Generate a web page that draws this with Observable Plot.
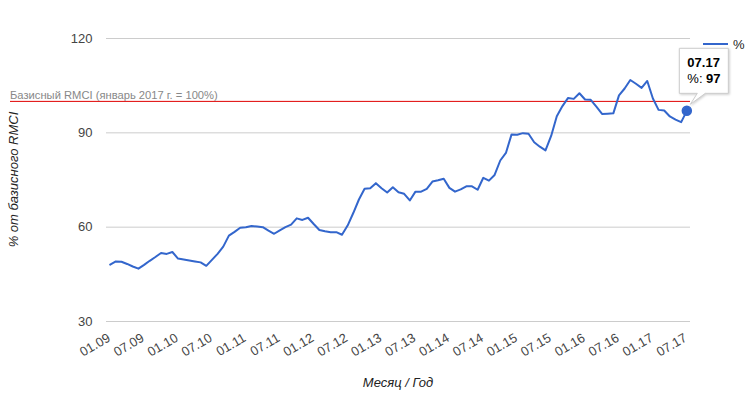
<!DOCTYPE html>
<html><head><meta charset="utf-8">
<script src="https://cdn.jsdelivr.net/npm/d3@7"></script>
<script src="https://cdn.jsdelivr.net/npm/@observablehq/plot@0.6"></script>
<style>
html,body{margin:0;padding:0;background:#fff;}
</style></head><body><div id="chart"></div>
<script>
// Monthly RMCI, % of base (Jan 2017 = 100), Jan 2009 .. Jul 2017
const values = [
  48.1, 49.1, 49.0, 48.3, 47.5, 46.8, 48.0, 49.3, 50.5, 51.8, 51.5, 52.1,
  50.0, 49.7, 49.4, 49.1, 48.8, 47.7, 49.6, 51.5, 53.8, 57.3, 58.5, 59.8,
  60.0, 60.4, 60.2, 60.0, 58.9, 57.9, 59.0, 60.0, 60.8, 62.8, 62.3, 63.0,
  61.0, 59.1, 58.7, 58.4, 58.4, 57.6, 60.5, 64.5, 68.8, 72.2, 72.4, 74.0,
  72.4, 71.0, 72.7, 71.1, 70.6, 68.5, 71.3, 71.3, 72.2, 74.5, 74.9, 75.4,
  72.5, 71.3, 72.0, 73.0, 73.0, 71.9, 75.7, 74.8, 76.6, 81.2, 83.6, 89.5,
  89.4, 89.9, 89.7, 87.0, 85.6, 84.4, 89.0, 95.3, 98.5, 101.1, 100.8, 102.6,
  100.6, 100.5, 98.3, 96.0, 96.1, 96.2, 101.9, 104.1, 106.8, 105.6, 104.3, 106.5,
  100.9, 97.3, 97.1, 95.2, 94.2, 93.4, 97
];
const tickLabels = ["01.09","07.09","01.10","07.10","01.11","07.11","01.12","07.12","01.13",
                    "07.13","01.14","07.14","01.15","07.15","01.16","07.16","01.17","07.17"];
const tickStep = 6; // months between labels
const yTicks = [30, 60, 90, 120];
const baseValue = 100;
const baseLabel = "Базисный RMCI (январь 2017 г. = 100%)";
const yTitle = "% от базисного RMCI";
const xTitle = "Месяц / Год";
const seriesName = "%";
const tipTitle = "07.17";

const data = values.map((v, i) => ({i, v}));
const ticks = tickLabels.map((t, k) => ({i: k * tickStep, t}));
const last = data[data.length - 1];

const FONT = "'Liberation Sans', Arial, sans-serif";
const BLUE = "#3366cc";

const chart = Plot.plot({
  width: 750, height: 395,
  marginLeft: 106, marginRight: 60, marginTop: 38, marginBottom: 74,
  style: {fontFamily: FONT, fontSize: "13px", background: "#fff", overflow: "visible"},
  x: {domain: [-0.65, values.length - 1 + 0.65], axis: null},
  y: {domain: [30, 120], axis: null},
  marks: [
    Plot.ruleY(yTicks, {stroke: "#cccccc", strokeWidth: 1}),
    Plot.text(yTicks, {y: d => d, text: d => String(d), frameAnchor: "left", dx: -14, textAnchor: "end", fill: "#444", fontSize: 13}),
    Plot.text(ticks, {x: "i", text: "t", frameAnchor: "bottom", rotate: -30, textAnchor: "end", lineAnchor: "bottom", dy: 19, dx: 1, fill: "#444", fontSize: 13}),
    Plot.ruleY([baseValue], {stroke: "#e00000", strokeWidth: 1, insetLeft: -96}),
    Plot.line(data, {x: "i", y: "v", stroke: BLUE, strokeWidth: 2, strokeLinejoin: "round"}),
    Plot.dot([last], {x: "i", y: "v", r: 4.5, fill: BLUE, stroke: BLUE})
  ]
});
document.getElementById("chart").appendChild(chart);

const svg = d3.select(chart);
const sx = chart.scale("x"), sy = chart.scale("y");
const px = sx.apply(last.i), py = sy.apply(last.v);
const xr = sx.range, yr = sy.range;
const midX = (Math.min(...xr) + Math.max(...xr)) / 2;
const midY = (Math.min(...yr) + Math.max(...yr)) / 2;

function txt(sel) {
  return sel.append("text").attr("font-family", FONT).attr("font-size", 13).attr("text-anchor", "start");
}

// base line label
txt(svg).attr("x", 10).attr("y", sy.apply(baseValue) - 2)
  .attr("font-size", 11.2).attr("fill", "#888").text(baseLabel);

// axis titles
txt(svg).attr("transform", `translate(18,${midY}) rotate(-90)`).attr("text-anchor", "middle")
  .attr("font-style", "italic").attr("fill", "#222").text(yTitle);
txt(svg).attr("x", midX).attr("y", 387).attr("text-anchor", "middle")
  .attr("font-style", "italic").attr("fill", "#222").text(xTitle);

// legend
svg.append("line").attr("x1", 703).attr("x2", 728).attr("y1", 44).attr("y2", 44)
  .attr("stroke", BLUE).attr("stroke-width", 2);
txt(svg).attr("x", 733).attr("y", 48.5).attr("fill", "#222").text(seriesName);

// tooltip
const tg = svg.append("g").attr("transform", `translate(${px},${py})`);
const L = -7, T = -62, R = 42, B = -17;
tg.append("path")
  .attr("d", `M${L},${T}H${R}V${B}H${19}L${4},${-6}L${11},${B}H${L}Z`)
  .attr("fill", "#fff").attr("stroke", "#cccccc").attr("stroke-width", 1)
  .style("filter", "drop-shadow(1px 1px 1px rgba(0,0,0,0.18))");
txt(tg).attr("x", 1).attr("y", T + 19).attr("font-weight", "bold").attr("fill", "#000").text(tipTitle);
const t2 = txt(tg).attr("x", 1).attr("y", T + 35).attr("fill", "#000");
t2.append("tspan").text(seriesName + ": ");
t2.append("tspan").attr("font-weight", "bold").text(String(last.v));
</script>
</body></html>
